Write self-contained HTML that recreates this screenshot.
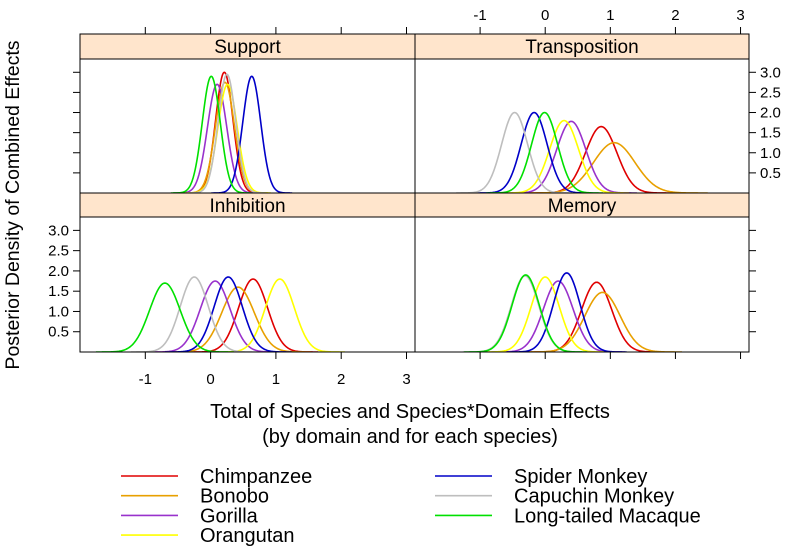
<!DOCTYPE html>
<html><head><meta charset="utf-8"><style>
html,body{margin:0;padding:0;background:#fff;}
svg{display:block;font-family:"Liberation Sans",Arial,sans-serif;}
</style></head><body>
<svg id="chart" width="788" height="550" viewBox="0 0 788 550" xmlns="http://www.w3.org/2000/svg"></svg>
<script>
const species = ["Chimpanzee","Bonobo","Gorilla","Orangutan","Spider Monkey","Capuchin Monkey","Long-tailed Macaque"];
const colors = ["#e00000","#e8a000","#9932cc","#ffff00","#0000c8","#bebebe","#00e000"];
const panels = ["Support","Transposition","Inhibition","Memory"];
// per panel: posterior means and peak densities, species order as above
const supportMeans = [0.21,0.22,0.10,0.26,0.63,0.25,0.01];
const supportPeaks = [3.0,2.75,2.7,2.7,2.9,2.95,2.9];
const transpositionMeans = [0.86,1.06,0.40,0.29,-0.17,-0.47,-0.01];
const transpositionPeaks = [1.65,1.25,1.78,1.8,2.0,2.0,2.0];
const inhibitionMeans = [0.65,0.42,0.07,1.06,0.27,-0.25,-0.70];
const inhibitionPeaks = [1.8,1.6,1.75,1.8,1.85,1.85,1.7];
const memoryMeans = [0.79,0.88,0.20,0.0,0.33,-0.31,-0.30];
const memoryPeaks = [1.72,1.47,1.75,1.85,1.95,1.88,1.9];
const xTicks = [-1,0,1,2,3];
const yTicks = [0.5,1.0,1.5,2.0,2.5,3.0];
const yTickLabels = ["0.5","1.0","1.5","2.0","2.5","3.0"];

const NS="http://www.w3.org/2000/svg";
const svg=document.getElementById('chart');
function mk(tag,attrs,parent){const e=document.createElementNS(NS,tag);for(const k in attrs)e.setAttribute(k,attrs[k]);(parent||svg).appendChild(e);return e;}

const colX=[[80,415],[415,749]];
const rowY=[{strip:34,top:59,bottom:193},{strip:193,top:217,bottom:352}];
const xMin=-2.0,xMax=3.13,yMax=3.33;
function xs(v,c){const [a,b]=colX[c];return a+(v-xMin)/(xMax-xMin)*(b-a);}
function ys(v,r){const R=rowY[r];return R.bottom-v/yMax*(R.bottom-R.top);}

const means=[supportMeans,transpositionMeans,inhibitionMeans,memoryMeans];
const peaks=[supportPeaks,transpositionPeaks,inhibitionPeaks,memoryPeaks];

panels.forEach((p,i)=>{
  const c=i%2,r=i<2?0:1;const R=rowY[r];const [x0,x1]=colX[c];
  const g=mk('g',{});
  
  
  const st=mk('rect',{x:x0,y:R.strip,width:x1-x0,height:R.top-R.strip,fill:'#ffe5cc',stroke:'#000','stroke-width':1},g);
  
  
  const t=mk('text',{x:(x0+x1)/2,y:R.strip+19,'text-anchor':'middle','font-size':19},g);
  t.textContent=p;
  
  
  const cl='clip'+i;
  const cp=mk('clipPath',{id:cl},g);mk('rect',{x:x0,y:R.top,width:x1-x0,height:R.bottom-R.top},cp);
  species.forEach((s,k)=>{
    const mu=means[i][k],h=peaks[i][k],sd=1/(h*Math.sqrt(2*Math.PI));
    let d='';
    for(let j=0;j<=200;j++){const x=mu-4.5*sd+9*sd*j/200;const y=h*Math.exp(-0.5*((x-mu)/sd)**2);d+=(j?'L':'M')+xs(x,c).toFixed(2)+','+ys(y,r).toFixed(2);}
    const pa=mk('path',{d:d,fill:'none',stroke:colors[k],'stroke-width':1.6,'clip-path':'url(#'+cl+')'},g);
    
    
  });
  const fr=mk('rect',{x:x0,y:R.top,width:x1-x0,height:R.bottom-R.top,fill:'none',stroke:'#000','stroke-width':1},g);
  
  
});

const axg=mk('g',{stroke:'#000','stroke-width':1});


[0,1].forEach(c=>{
  xTicks.forEach(v=>{
    const x=xs(v,c);
    mk('line',{x1:x,x2:x,y1:34,y2:27},axg);
    mk('line',{x1:x,x2:x,y1:352,y2:359},axg);
  });
});
xTicks.forEach(v=>{
  const t=mk('text',{x:xs(v,1),y:20,'text-anchor':'middle','font-size':15,stroke:'none'},axg);
  t.textContent=String(v);
  
  
  const b=mk('text',{x:xs(v,0),y:384,'text-anchor':'middle','font-size':15,stroke:'none'},axg);
  b.textContent=String(v);
  
  
});
[0,1].forEach(r=>{
  yTicks.forEach((v,k)=>{
    const y=ys(v,r);
    mk('line',{x1:80,x2:73,y1:y,y2:y},axg);
    mk('line',{x1:749,x2:756,y1:y,y2:y},axg);
    if(r===0){const t=mk('text',{x:760,y:y+5,'font-size':15,stroke:'none'},axg);t.textContent=yTickLabels[k];
      
      }
    else{const t=mk('text',{x:69,y:y+5,'text-anchor':'end','font-size':15,stroke:'none'},axg);t.textContent=yTickLabels[k];
      
      }
  });
});

const yt=mk('text',{x:0,y:0,transform:'translate(19,205) rotate(-90)','text-anchor':'middle','font-size':19.5});
yt.textContent='Posterior Density of Combined Effects';


const xt1=mk('text',{x:410,y:418,'text-anchor':'middle','font-size':20});
xt1.textContent='Total of Species and Species*Domain Effects';


const xt2=mk('text',{x:410,y:443,'text-anchor':'middle','font-size':20});
xt2.textContent='(by domain and for each species)';



const lg=mk('g',{});


species.forEach((s,k)=>{
  const col=k<4?0:1,row=k<4?k:k-4;
  const lx=col?435:121,tx=col?514:200,y=476+row*19.7;
  const e=mk('g',{},lg);
  
  
  mk('line',{x1:lx,x2:lx+57,y1:y,y2:y,stroke:colors[k],'stroke-width':1.6},e);
  const t=mk('text',{x:tx,y:y+7,'font-size':20},e);
  t.textContent=s;
});
</script>
</body></html>
